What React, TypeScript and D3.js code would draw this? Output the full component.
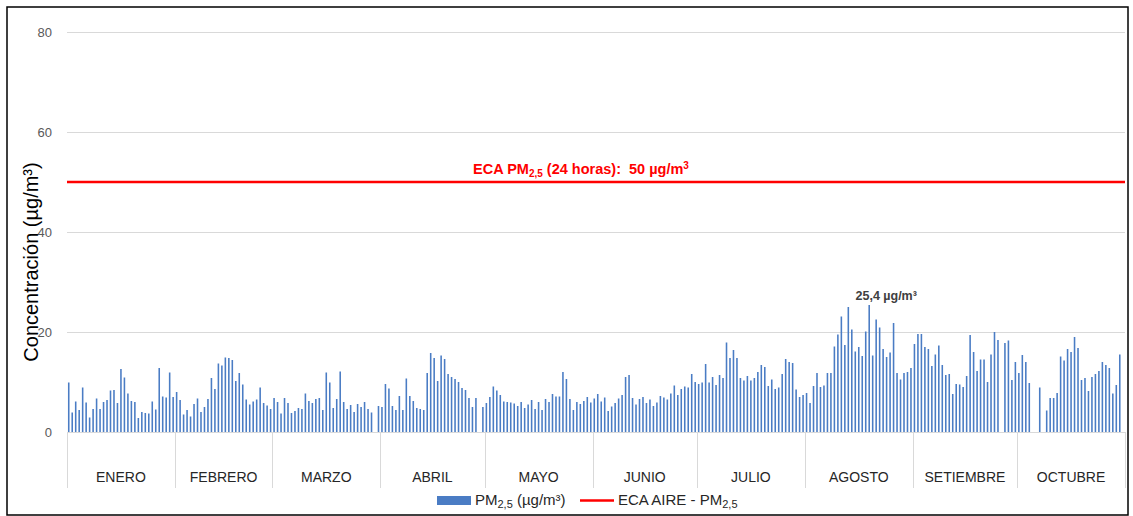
import React from "react";
import * as d3 from "d3";

const MONTHS = ["ENERO", "FEBRERO", "MARZO", "ABRIL", "MAYO", "JUNIO", "JULIO", "AGOSTO", "SETIEMBRE", "OCTUBRE"];

const ENERO = [9.9, 3.9, 6.1, 4.4, 8.9, 5.9, 2.9, 4.6, 6.7, 4.6, 6.0, 6.4, 8.3, 8.4, 5.8, 12.6, 10.9, 7.7, 6.2, 6.0, 2.8, 4.0, 3.8, 3.7, 6.1, 4.5, 12.8, 7.1, 6.9, 11.9, 7.0];
const FEBRERO = [8.0, 6.4, 3.5, 4.4, 3.1, 5.6, 6.7, 4.0, 5.0, 6.6, 10.8, 8.6, 13.7, 13.3, 14.9, 14.8, 14.4, 10.2, 11.8, 9.5, 6.5, 5.5, 6.1, 6.5, 8.9, 5.8, 5.3, 4.6];
const MARZO = [6.8, 6.0, 3.7, 6.8, 5.8, 3.8, 4.2, 4.8, 4.6, 7.7, 6.2, 5.8, 6.6, 6.8, 4.4, 11.9, 9.9, 4.8, 6.6, 12.1, 6.0, 4.6, 5.4, 4.0, 5.6, 5.0, 6.0, 4.6, 3.9, null, 5.2];
const ABRIL = [5.0, 9.6, 8.7, 5.2, 4.4, 7.2, 4.4, 10.7, 7.2, 6.2, 4.8, 4.6, 4.4, 11.8, 15.8, 14.8, 10.2, 15.3, 14.6, 11.6, 11.0, 10.6, 10.0, 8.8, 8.4, 6.8, 5.0, 6.8, null, 5.0];
const MAYO = [5.8, 7.0, 9.1, 8.3, 7.4, 6.1, 6.0, 5.9, 5.7, 5.2, 6.0, 4.8, 5.5, 6.4, 4.6, 6.0, 4.4, 6.6, 6.0, 7.6, 7.1, 7.1, 12.0, 10.6, 6.6, 4.4, 6.0, 5.6, 6.2, 7.0, 5.9];
const JUNIO = [6.7, 7.6, 6.1, 6.9, 4.2, 5.1, 5.8, 6.7, 7.4, 11.0, 11.4, 6.8, 5.5, 6.6, 7.0, 5.8, 6.5, 5.2, 5.9, 7.2, 6.9, 6.5, 7.7, 9.3, 7.4, 8.6, 9.1, 8.9, 11.6, 10.0];
const JULIO = [9.6, 9.9, 13.6, 9.9, 11.0, 9.4, 11.4, 10.8, 17.9, 14.8, 16.4, 14.8, 10.8, 10.3, 11.2, 10.3, 10.8, 12.0, 13.4, 13.0, 9.2, 10.5, 8.6, 8.9, 11.6, 14.6, 14.0, 13.8, 8.5, 7.0, 7.4];
const AGOSTO = [7.8, 5.8, 9.2, 11.8, 9.0, 9.3, 11.8, 11.8, 17.1, 19.5, 23.1, 17.4, 25.0, 20.5, 16.1, 17.0, 15.2, 20.1, 25.4, 15.3, 22.5, 20.9, 16.6, 15.0, 15.9, 21.8, 11.8, 10.5, 11.8, 12.0, 12.8];
const SETIEMBRE = [17.6, 19.6, 19.6, 17.0, 16.6, 13.2, 15.5, 17.3, 13.4, 11.4, 11.6, 7.6, 9.6, 9.5, 9.0, 11.2, 19.4, 16.0, 12.2, 14.5, 14.5, 10.0, 15.5, 20.0, 18.4, null, 17.8, 18.3, 10.4, 14.0];
const OCTUBRE = [11.8, 15.4, 14.0, 9.8, null, null, 8.9, null, 4.3, 6.8, 6.8, 7.8, 15.1, 14.3, 16.6, 16.0, 19.0, 16.8, 10.4, 10.8, 8.2, 11.0, 11.6, 12.2, 14.0, 13.4, 12.8, 7.7, 9.4, 15.5, null];

const MONTH_VALUES: (number | null)[][] = [ENERO, FEBRERO, MARZO, ABRIL, MAYO, JUNIO, JULIO, AGOSTO, SETIEMBRE, OCTUBRE];
const Y_TICKS = [0, 20, 40, 60, 80];
const ECA_LIMIT = 50;
const PEAK_LABEL = "25,4 µg/m³";

type Day = { idx: number; month: number; value: number | null };

const days: Day[] = [];
MONTH_VALUES.forEach((arr, m) => arr.forEach((v) => days.push({ idx: days.length, month: m, value: v })));

const FONT = "'Liberation Sans', Arial, sans-serif";

export default function App() {
  const W = 1133, H = 516;
  const left = 67, right = 1125, top = 32, bottom = 432;
  const x = d3.scaleBand<number>().domain(days.map((d) => d.idx)).range([left, right]).paddingInner(0.55).paddingOuter(0.275);
  const y = d3.scaleLinear().domain([0, 80]).range([bottom, top]);
  const step = x.step();

  const bounds: number[] = [left];
  let cum = 0;
  MONTH_VALUES.forEach((arr) => { cum += arr.length; bounds.push(left + cum * step); });

  let peak = days[0];
  days.forEach((d) => { if (d.value != null && (peak.value == null || d.value > peak.value)) peak = d; });
  const peakX = (x(peak.idx) as number) + x.bandwidth() / 2;

  return (
    <svg width={W} height={H} style={{ position: "absolute", left: 0, top: 0, display: "block", background: "#fff" }} fontFamily={FONT}>
      <rect x={7} y={7} width={1121} height={508} fill="#fff" stroke="#000" strokeWidth={1.5} />
      {Y_TICKS.map((t) => (
        <g key={t}>
          <line x1={left} x2={right} y1={y(t) + 0.5} y2={y(t) + 0.5} stroke="#d9d9d9" strokeWidth={1} />
          <text x={52} y={y(t)} dy="0.35em" textAnchor="end" fontSize={13} fill="#595959">{t}</text>
        </g>
      ))}
      {bounds.map((b, i) => (
        <line key={i} x1={Math.round(b) + 0.5} x2={Math.round(b) + 0.5} y1={bottom} y2={488} stroke="#d9d9d9" strokeWidth={1} />
      ))}
      {MONTHS.map((m, i) => (
        <text key={m} x={(bounds[i] + bounds[i + 1]) / 2} y={482} textAnchor="middle" fontSize={14} fill="#262626">{m}</text>
      ))}
      {days.filter((d) => d.value != null).map((d) => (
        <rect key={d.idx} x={x(d.idx)} y={y(d.value as number)} width={x.bandwidth()} height={y(0) - y(d.value as number)} fill="#4a7cc4" />
      ))}
      <line x1={left} x2={right} y1={y(ECA_LIMIT)} y2={y(ECA_LIMIT)} stroke="#ff0000" strokeWidth={2.5} />
      <text x={581} y={174} textAnchor="middle" fontSize={14.5} fontWeight="bold" fill="#ff0000" style={{ whiteSpace: "pre" }}>
        ECA PM<tspan fontSize={10} dy={3}>2,5</tspan><tspan dy={-3}>{" (24 horas):  50 µg/m"}</tspan><tspan fontSize={10} dy={-5}>3</tspan>
      </text>
      <text x={peakX + 17} y={300} textAnchor="middle" fontSize={12.5} fontWeight="bold" fill="#404040">{PEAK_LABEL}</text>
      <text transform={`translate(38,262) rotate(-90)`} textAnchor="middle" fontSize={20} fill="#000">Concentración (µg/m³)</text>
      <rect x={437} y={496} width={34} height={9} fill="#4a7cc4" />
      <text x={475} y={505} fontSize={15} fill="#262626">
        PM<tspan fontSize={11} dy={3}>2,5</tspan><tspan dy={-3}>{" (µg/m³)"}</tspan>
      </text>
      <line x1={580} x2={614} y1={500.5} y2={500.5} stroke="#ff0000" strokeWidth={2.5} />
      <text x={618} y={505} fontSize={15} fill="#262626">
        ECA AIRE - PM<tspan fontSize={11} dy={3}>2,5</tspan>
      </text>
    </svg>
  );
}
